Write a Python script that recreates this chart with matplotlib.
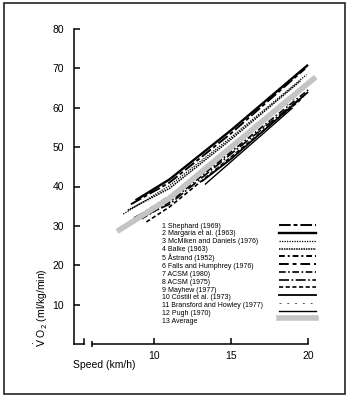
"""
VO2 vs running speed: regression lines from 12 studies plus their average.
"""

import matplotlib
matplotlib.use('Agg')
import matplotlib.pyplot as plt
from matplotlib.lines import Line2D
from matplotlib.patches import Rectangle

plt.rcParams['font.family'] = ['Liberation Sans', 'DejaVu Sans']

# studies, in legend order
studies = ['Shephard (1969)', 'Margaria et al. (1963)', 'McMiken and Daniels (1976)',
           'Balke (1963)', 'Åstrand (1952)', 'Falls and Humphrey (1976)',
           'ACSM (1980)', 'ACSM (1975)', 'Mayhew (1977)', 'Costill et al. (1973)',
           'Bransford and Howley (1977)', 'Pugh (1970)', 'Average']

# speed (km/h) and VO2 (ml/kg/min)
speed = [
    [8.5, 11, 15, 19.8],
    [8.8, 11, 15, 20.0],
    [8.0, 11, 15, 19.9],
    [8.3, 11, 15, 19.5],
    [9.0, 11, 15, 20.0],
    [8.7, 11, 15, 19.8],
    [9.2, 11, 15, 20.0],
    [8.5, 11, 15, 19.8],
    [9.5, 11, 15, 19.5],
    [13.1, 15, 20.0],
    [12.5, 15, 19.3],
    [13.3, 19.0],
    [7.6, 11, 15, 20.5],
]
vo2 = [
    [35.5, 41.0, 53.5, 69.9],
    [36.5, 41.8, 54.3, 70.9],
    [33.0, 40.2, 52.5, 68.4],
    [34.0, 39.5, 52.0, 66.8],
    [32.5, 37.5, 50.0, 66.2],
    [32.0, 36.8, 49.5, 65.5],
    [31.8, 36.0, 48.8, 64.5],
    [31.0, 35.5, 48.3, 63.3],
    [31.0, 34.8, 47.5, 62.0],
    [41.3, 47.0, 64.0],
    [40.0, 47.5, 63.0],
    [40.5, 60.0],
    [28.6, 37.0, 50.0, 67.8],
]

styles = [
    dict(color='k', lw=1.4, ls=(0, (6, 1.5, 2, 1.5))),
    dict(color='k', lw=1.7, ls='-'),
    dict(color='k', lw=0.9, ls=(0, (1, 1))),
    dict(color='k', lw=1.1, ls=(0, (1, 0.6))),
    dict(color='k', lw=1.4, ls=(0, (3, 1.5, 1, 1.5))),
    dict(color='k', lw=1.4, ls=(0, (5, 2, 2, 2))),
    dict(color='k', lw=1.2, ls=(0, (4, 1.5, 1, 1.5))),
    dict(color='k', lw=1.2, ls=(0, (6, 1.5, 1, 1.5))),
    dict(color='k', lw=1.2, ls=(0, (2.5, 1.5))),
    dict(color='k', lw=1.3, ls='-'),
    dict(color='#555555', lw=0.7, ls=(0, (2, 6))),
    dict(color='k', lw=1.0, ls='-'),
    dict(color='#c4c4c4', lw=4.0, ls='-'),
]

fig = plt.figure(figsize=(3.51, 4.0), dpi=100)
ax = fig.add_axes([74 / 351, 56 / 400, 243.3 / 351, 315 / 400])

for x, y, st in zip(speed, vo2, styles):
    ax.plot(x, y, solid_capstyle='butt', dash_capstyle='butt', **st)

ax.set_xlim(4.8, 20.6)
ax.set_ylim(0, 80)
ax.spines['top'].set_visible(False)
ax.spines['right'].set_visible(False)
ax.spines['bottom'].set_bounds(6, 20)
for s in ('left', 'bottom'):
    ax.spines[s].set_linewidth(1.1)

ax.set_yticks(range(10, 90, 10))
ax.set_xticks([10, 15, 20])
ax.set_xticks([6], minor=True)
ax.tick_params(axis='both', which='major', direction='in', length=4, width=1.1,
               labelsize=7.5)
ax.tick_params(axis='y', pad=7)
ax.tick_params(axis='x', pad=5)
ax.tick_params(axis='x', which='minor', direction='inout', length=5, width=1.1)

# broken-axis stub at the origin
ax.plot([4.8, 5.45], [0, 0], color='k', lw=1.1, clip_on=False)
ax.plot([5.45, 5.45], [0, 1.2], color='k', lw=1.1, clip_on=False)

ax.set_ylabel(r'$\dot{\rm V}$ O$_2$ (ml/kg/min)', fontsize=7.5)
ax.yaxis.set_label_coords(-0.1, -0.01)
ax.yaxis.label.set_horizontalalignment('left')
ax.set_xlabel('Speed (km/h)', fontsize=7.5)
ax.xaxis.set_label_coords(-0.005, -0.05)
ax.xaxis.label.set_horizontalalignment('left')
ax.xaxis.label.set_verticalalignment('top')

# legend: text column and line-sample column
handles = [Line2D([], [], **st) for st in styles]
blank = [Line2D([], [], lw=0) for _ in styles]
labels = [f'{i + 1} {name}' for i, name in enumerate(studies)]
leg_kw = dict(loc='upper left', frameon=False, fontsize=5, labelspacing=0.11,
              borderaxespad=0, borderpad=0)
leg1 = ax.legend(blank, labels, bbox_to_anchor=(0.362, 0.385), handlelength=0,
                 handletextpad=0, **leg_kw)
ax.add_artist(leg1)
ax.legend(handles, [' '] * len(handles), bbox_to_anchor=(0.843, 0.385),
          handlelength=5.3, handletextpad=0, **leg_kw)

# frame round the whole figure
fig.patches.append(Rectangle((4 / 351, 6 / 400), 341 / 351, 391 / 400,
                             transform=fig.transFigure, fill=False,
                             edgecolor='#222222', lw=1.2))

fig.savefig('out.png', dpi=100)
